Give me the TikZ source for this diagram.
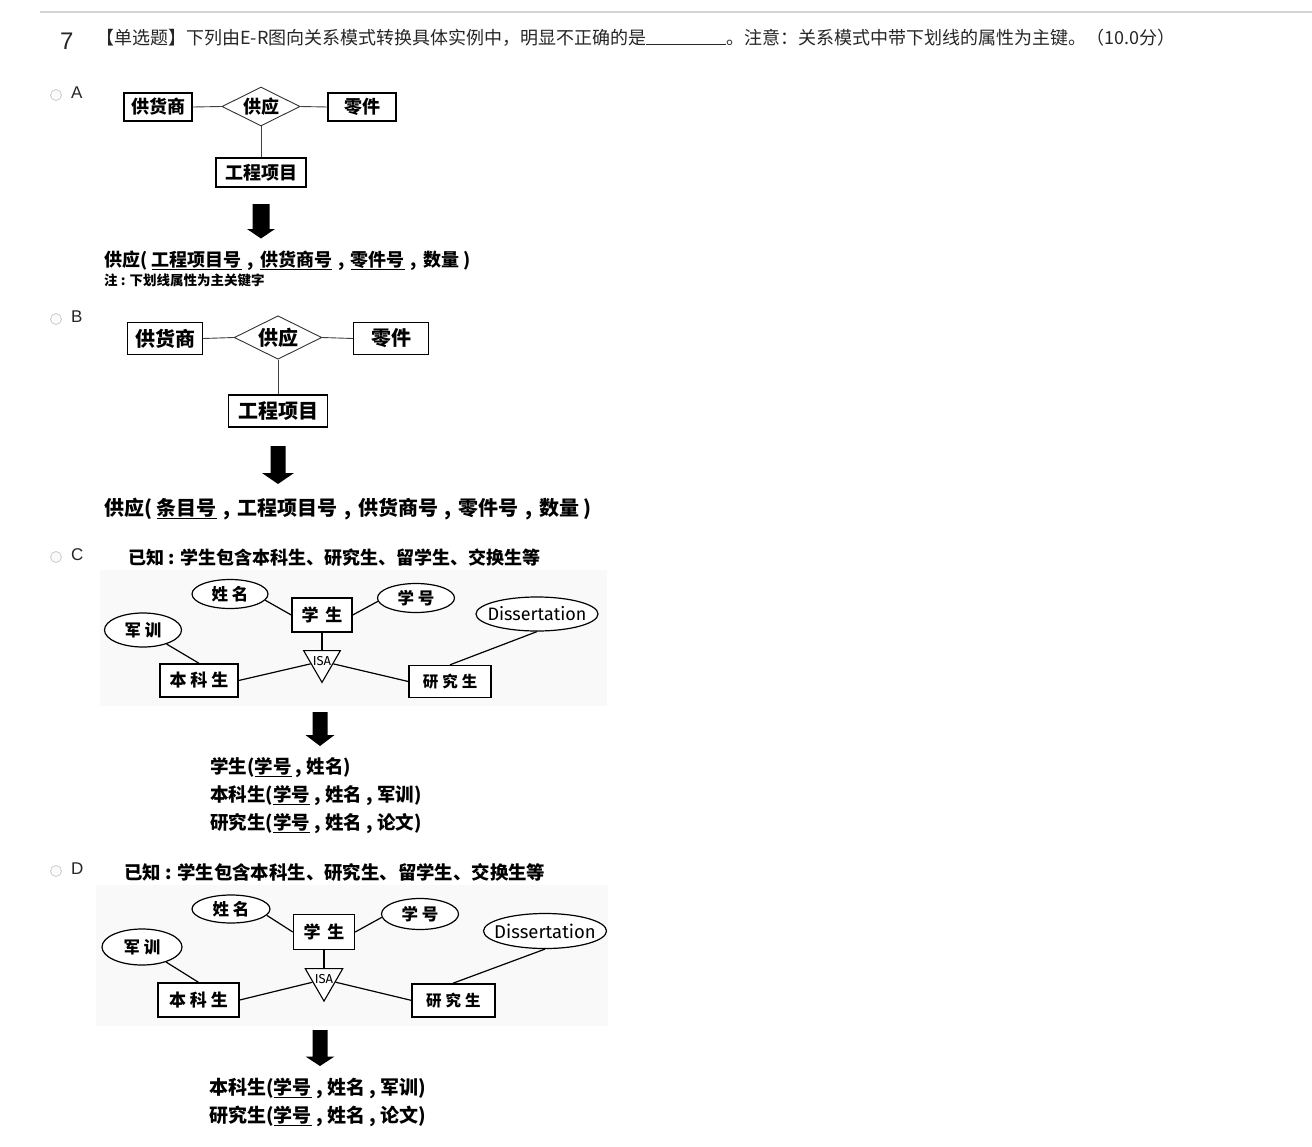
\documentclass[tikz,border=0pt]{standalone}
\usepackage{fontspec}
\setmainfont{Liberation Sans}
\newfontfamily\cjk{Noto Sans CJK SC}
\newfontfamily\disfont{Fira Sans}
\usetikzlibrary{shapes.geometric}
\newcommand\fs[1]{\fontsize{#1}{#1}\selectfont}
% wide separator used in the relation schemas
\newcommand\sep{\hspace{0.34em},\hspace{0.34em}}
\newcommand\gap{\hspace{4pt}}
\begin{document}
\begin{tikzpicture}[x=1pt,y=-1pt,
  ent/.style={draw=black, line width=1.1pt, fill=white, inner sep=0pt, font=\cjk\bfseries\fs{18}},
  rel/.style={diamond, aspect=2, draw=black!80, line width=0.9pt, fill=white, inner sep=0pt, font=\cjk\bfseries\fs{18}},
  lnk/.style={draw=black!75, line width=0.9pt},
  ell/.style={ellipse, draw=black, line width=1.2pt, fill=white, inner sep=0pt, font=\cjk\bfseries\fs{16.5}},
  box/.style={draw=black, line width=1.4pt, fill=white, inner sep=0pt, font=\cjk\bfseries\fs{17}},
  isa/.style={regular polygon, regular polygon sides=3, shape border rotate=180, draw=black, line width=1.1pt, fill=white, inner sep=0pt},
  con/.style={draw=black, line width=1.2pt},
  txt/.style={anchor=base west, inner sep=0pt, text=black!85},
  schema/.style={anchor=base west, inner sep=0pt, font=\cjk\bfseries\fs{18.5}},
  radio/.style={circle, draw=black!20, fill=black!2, line width=0.8pt, minimum size=11, inner sep=0pt},
  opt/.style={anchor=west, inner sep=0pt, font=\fs{17}, text=black!85},
  panel/.style={fill=black!2.5}
]
\useasboundingbox (0,0) rectangle (1312,1146);
\fill[white] (0,0) rectangle (1312,1146);

% header rule and question
\draw[line width=2pt, black!17] (40,12) -- (1312,12);
\node[txt, font=\fs{24}] (qnum) at (60,49) {7};
\node[txt, font=\cjk\fs{18}] (qtxt) at (96,44) {【单选题】下列由E-R图向关系模式转换具体实例中，明显不正确的是\rule[-1pt]{80pt}{0.8pt}。注意：关系模式中带下划线的属性为主键。（10.0分）};

% option markers
\foreach \yy/\l in {95/A,319/B,557/C,871/D}{
  \node[radio] (rad\l) at (56,\yy) {};
  \node[opt] (lab\l) at (71,{\yy-2}) {\l};
}

% ---------- option A ----------
\node[ent, minimum width=68, minimum height=28] (a1) at (158,107) {供货商};
\node[rel, minimum width=78, minimum height=39] (a2) at (261,106.5) {供应};
\node[ent, minimum width=68, minimum height=28] (a3) at (362,107) {零件};
\node[ent, minimum width=90, minimum height=29] (a4) at (261,172.5) {工程项目};
\draw[lnk] (a1.east) -- (a2.west);
\draw[lnk] (a2.east) -- (a3.west);
\draw[lnk] (a2.south) -- (a4.north);
\fill (252.5,204) -- (269.5,204) -- (269.5,229) -- (275,229) -- (261,238.5) -- (247,229) -- (252.5,229) -- cycle;
\node[schema, font=\cjk\bfseries\fs{18}] (as) at (104,266) {供应( \underline{工程项目号}\sep\underline{供货商号}\sep\underline{零件号}\sep 数量 )};
\node[schema, font=\cjk\bfseries\fs{13.5}] (an) at (104,285) {注 : 下划线属性为主关键字};

% ---------- option B ----------
\node[ent, font=\cjk\bfseries\fs{20}, minimum width=75, minimum height=31.5] (b1) at (165,338.5) {供货商};
\node[rel, font=\cjk\bfseries\fs{20}, minimum width=87.5, minimum height=43.5] (b2) at (278,337.5) {供应};
\node[ent, font=\cjk\bfseries\fs{20}, minimum width=75, minimum height=31.5] (b3) at (391,338.5) {零件};
\node[ent, font=\cjk\bfseries\fs{20}, minimum width=99, minimum height=32] (b4) at (278,411) {工程项目};
\draw[lnk] (b1.east) -- (b2.west);
\draw[lnk] (b2.east) -- (b3.west);
\draw[lnk] (b2.south) -- (b4.north);
\fill (270.5,446) -- (285.5,446) -- (285.5,473) -- (294,473) -- (278,484) -- (262,473) -- (270.5,473) -- cycle;
\node[schema, font=\cjk\bfseries\fs{20}] (bs) at (104,515) {供应( \underline{条目号}\sep 工程项目号\sep 供货商号\sep 零件号\sep 数量 )};

% ---------- option C ----------
\node[schema, font=\cjk\bfseries\fs{18}] (ch) at (128,564) {已知 : 学生包含本科生、研究生、留学生、交换生等};
\fill[panel] (100,570) rectangle (607,706);
\node[ell, minimum width=76, minimum height=29] (c1) at (230,594) {姓\gap 名};
\node[ell, minimum width=77, minimum height=29] (c2) at (416,598) {学\gap 号};
\node[box, minimum width=60, minimum height=34] (c3) at (322,615) {学\hspace{7pt}生};
\node[ell, minimum width=122, minimum height=34, label={[font=\disfont\fs{18}, inner sep=0pt]center:Dissertation}] (c4) at (537,614) {};
\node[ell, minimum width=77, minimum height=34] (c5) at (143,630) {军\gap 训};
\node[box, minimum width=78, minimum height=33] (c6) at (199,680.5) {本\gap 科\gap 生};
\node[box, font=\cjk\bfseries\fs{15.5}, minimum width=82, minimum height=32] (c7) at (450,681.5) {研\gap 究\gap 生};
\node[isa, minimum size=42.4, label={[font=\disfont\fs{13}, inner sep=0pt]center:ISA}] (c8) at (322,661.2) {};
\draw[con] (c1.-10) -- (c3.west);
\draw[con] (c2.185) -- (c3.east);
\draw[con] (c3) -- (c8);
\draw[con] (c5) -- (c6.north);
\draw[con] (c6.east) -- (c8);
\draw[con] (c7.west) -- (c8);
\draw[con] (c4.south) -- (c7.north);
\fill (312.5,712) -- (327.5,712) -- (327.5,735) -- (334.5,735) -- (320,746) -- (305.5,735) -- (312.5,735) -- cycle;
\node[schema] (cs1) at (210,773) {学生(\underline{学号} , 姓名)};
\node[schema] (cs2) at (210,801) {本科生(\underline{学号} , 姓名 , 军训)};
\node[schema] (cs3) at (210,829.5) {研究生(\underline{学号} , 姓名 , 论文)};

% ---------- option D ----------
\node[schema, font=\cjk\bfseries\fs{18.4}] (dh) at (124,879) {已知 : 学生包含本科生、研究生、留学生、交换生等};
\fill[panel] (96,885) rectangle (608,1026);
\node[ell, minimum width=78, minimum height=28] (d1) at (231,909) {姓\gap 名};
\node[ell, minimum width=77, minimum height=31] (d2) at (420,914) {学\gap 号};
\node[box, minimum width=61, minimum height=35] (d3) at (324,932) {学\hspace{7pt}生};
\node[ell, minimum width=123, minimum height=35, label={[font=\disfont\fs{18.5}, inner sep=0pt]center:Dissertation}] (d4) at (545,931) {};
\node[ell, minimum width=80, minimum height=36] (d5) at (142,947) {军\gap 训};
\node[box, minimum width=81, minimum height=34] (d6) at (198.5,1000) {本\gap 科\gap 生};
\node[box, font=\cjk\bfseries\fs{15.5}, minimum width=83, minimum height=33] (d7) at (453.3,1000.3) {研\gap 究\gap 生};
\node[isa, minimum size=43.4, label={[font=\disfont\fs{13}, inner sep=0pt]center:ISA}] (d8) at (324,979.4) {};
\draw[con] (d1.-10) -- (d3.west);
\draw[con] (d2.185) -- (d3.east);
\draw[con] (d3) -- (d8);
\draw[con] (d5) -- (d6.north);
\draw[con] (d6.east) -- (d8);
\draw[con] (d7.west) -- (d8);
\draw[con] (d4.south) -- (d7.north);
\fill (312.5,1030) -- (327.5,1030) -- (327.5,1056.5) -- (334.5,1056.5) -- (320,1066) -- (305.5,1056.5) -- (312.5,1056.5) -- cycle;
\node[schema, font=\cjk\bfseries\fs{19}] (ds1) at (209,1094.5) {本科生(\underline{学号} , 姓名 , 军训)};
\node[schema, font=\cjk\bfseries\fs{19}] (ds2) at (209,1122.5) {研究生(\underline{学号} , 姓名 , 论文)};
\end{tikzpicture}
\end{document}
